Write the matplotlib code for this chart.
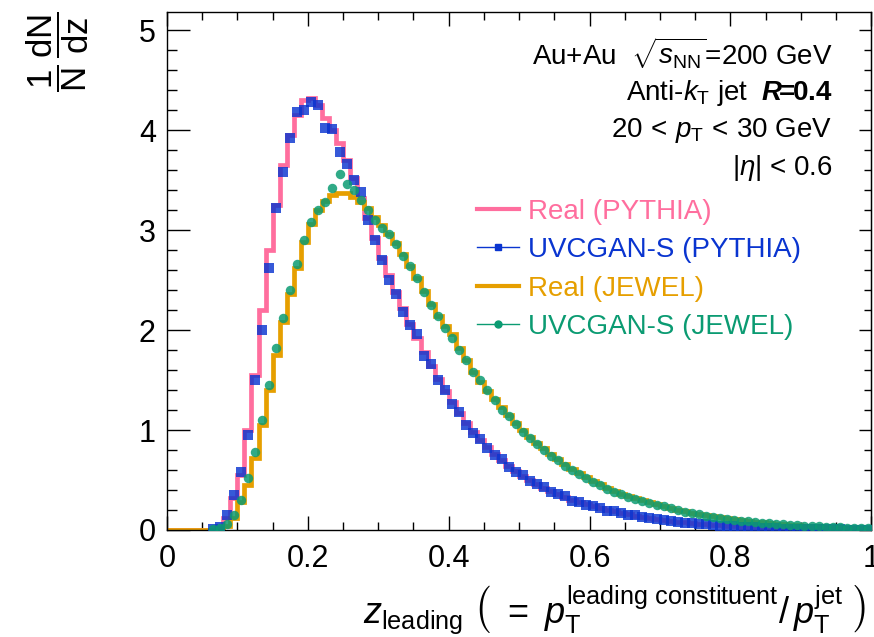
import numpy as np
import matplotlib
matplotlib.use("Agg")
import matplotlib.pyplot as plt
from matplotlib.lines import Line2D
from matplotlib.ticker import MultipleLocator

plt.rcParams['font.family'] = ['Liberation Sans', 'DejaVu Sans']
plt.rcParams['mathtext.fontset'] = 'custom'
plt.rcParams['mathtext.rm'] = 'Liberation Sans'
plt.rcParams['mathtext.it'] = 'Liberation Sans:italic'
plt.rcParams['mathtext.bf'] = 'Liberation Sans:bold'
plt.rcParams['mathtext.bfit'] = 'Liberation Sans:bold:italic'

# 100 bins of z_leading, width 0.01
bin_edges = np.linspace(0, 1, 101)

real_pythia = [
    0, 0, 0, 0, 0, 0, 0, 0.02, 0.12, 0.32,
    0.55, 1.0, 1.55, 2.2, 2.8, 3.25, 3.65, 3.95, 4.15, 4.30,
    4.32, 4.25, 4.12, 4.0, 3.87, 3.70, 3.52, 3.32, 3.12, 2.92,
    2.72, 2.55, 2.38, 2.22, 2.06, 1.92, 1.78, 1.64, 1.51, 1.39,
    1.28, 1.17, 1.07, 0.98, 0.90, 0.83, 0.76, 0.70, 0.64, 0.59,
    0.54, 0.50, 0.46, 0.42, 0.39, 0.36, 0.33, 0.30, 0.28, 0.26,
    0.24, 0.22, 0.20, 0.185, 0.17, 0.155, 0.14, 0.13, 0.12, 0.11,
    0.10, 0.09, 0.082, 0.075, 0.068, 0.062, 0.056, 0.05, 0.045, 0.04,
    0.036, 0.032, 0.028, 0.025, 0.022, 0.019, 0.017, 0.015, 0.013, 0.011,
    0.01, 0.009, 0.008, 0.007, 0.006, 0.005, 0.004, 0.004, 0.003, 0.003,
]

uvcgan_pythia = [
    0, 0, 0, 0, 0, 0, 0.005, 0.03, 0.15, 0.35,
    0.58, 0.95, 1.5, 2.0, 2.62, 3.22, 3.58, 3.92, 4.18, 4.20,
    4.28, 4.25, 4.02, 4.01, 3.78, 3.66, 3.50, 3.38, 3.10, 2.90,
    2.70, 2.50, 2.36, 2.18, 2.05, 1.96, 1.74, 1.66, 1.50, 1.40,
    1.26, 1.18, 1.05, 0.97, 0.91, 0.82, 0.75, 0.71, 0.63, 0.58,
    0.55, 0.49, 0.46, 0.43, 0.38, 0.36, 0.34, 0.29, 0.28, 0.25,
    0.24, 0.22, 0.19, 0.19, 0.165, 0.15, 0.145, 0.125, 0.12, 0.105,
    0.10, 0.088, 0.082, 0.072, 0.068, 0.06, 0.055, 0.05, 0.044, 0.04,
    0.035, 0.032, 0.027, 0.025, 0.021, 0.019, 0.017, 0.014, 0.013, 0.011,
    0.010, 0.009, 0.008, 0.007, 0.006, 0.005, 0.004, 0.004, 0.003, 0.003,
]

real_jewel = [
    0, 0, 0, 0, 0, 0, 0, 0, 0.04, 0.12,
    0.28, 0.45, 0.72, 1.05, 1.40, 1.75, 2.08, 2.36, 2.62, 2.88,
    3.06, 3.20, 3.29, 3.35, 3.37, 3.37, 3.33, 3.28, 3.22, 3.13,
    3.05, 2.96, 2.87, 2.76, 2.64, 2.52, 2.39, 2.26, 2.14, 2.04,
    1.96, 1.82, 1.70, 1.58, 1.48, 1.39, 1.31, 1.23, 1.15, 1.07,
    1.00, 0.93, 0.87, 0.82, 0.76, 0.71, 0.66, 0.61, 0.57, 0.53,
    0.49, 0.46, 0.42, 0.39, 0.36, 0.34, 0.32, 0.30, 0.28, 0.26,
    0.24, 0.22, 0.20, 0.185, 0.17, 0.16, 0.145, 0.135, 0.125, 0.115,
    0.105, 0.097, 0.09, 0.082, 0.075, 0.07, 0.064, 0.058, 0.053, 0.048,
    0.044, 0.04, 0.036, 0.033, 0.03, 0.027, 0.024, 0.022, 0.02, 0.018,
]

uvcgan_jewel = [
    0, 0, 0, 0, 0, 0, 0.005, 0.02, 0.06, 0.15,
    0.30, 0.52, 0.78, 1.10, 1.45, 1.82, 2.12, 2.40, 2.66, 2.90,
    3.08, 3.20, 3.28, 3.42, 3.56, 3.46, 3.40, 3.30, 3.20, 3.10,
    3.02, 2.96, 2.86, 2.74, 2.64, 2.52, 2.38, 2.25, 2.14, 2.02,
    1.92, 1.80, 1.70, 1.58, 1.50, 1.40, 1.30, 1.20, 1.14, 1.06,
    0.98, 0.92, 0.86, 0.80, 0.74, 0.70, 0.64, 0.60, 0.56, 0.52,
    0.48, 0.45, 0.41, 0.38, 0.355, 0.33, 0.31, 0.29, 0.27, 0.25,
    0.235, 0.215, 0.195, 0.18, 0.165, 0.155, 0.14, 0.13, 0.12, 0.11,
    0.10, 0.094, 0.086, 0.08, 0.073, 0.067, 0.062, 0.056, 0.051, 0.047,
    0.043, 0.039, 0.035, 0.032, 0.029, 0.026, 0.024, 0.022, 0.02, 0.018,
]

labels = ["Real (PYTHIA)", "UVCGAN-S (PYTHIA)", "Real (JEWEL)", "UVCGAN-S (JEWEL)"]
pink = "#ff6e9e"
blue = "#0a35d0"
orange = "#e69f00"
green = "#0b9b72"

fig = plt.figure(figsize=(8.74, 6.37), dpi=100)
ax = fig.add_axes([0.191, 0.168, 0.806, 0.813])

centers = 0.5 * (bin_edges[:-1] + bin_edges[1:])

ax.stairs(real_pythia, bin_edges, color=pink, lw=3.4, baseline=None, zorder=2)
ax.stairs(real_jewel, bin_edges, color=orange, lw=3.4, baseline=None, zorder=2)

up = np.array(uvcgan_pythia)
m = up > 0
ax.plot(centers[m], up[m], ls='none', marker='s', ms=6.8, color=blue, alpha=0.82, mew=0, zorder=3)
uj = np.array(uvcgan_jewel)
m = uj > 0
ax.plot(centers[m], uj[m], ls='none', marker='o', ms=6.8, color=green, alpha=0.85, mew=0, zorder=4)

ax.set_xlim(0, 1)
ax.set_ylim(0, 5.18)
ax.xaxis.set_major_locator(MultipleLocator(0.2))
ax.xaxis.set_minor_locator(MultipleLocator(0.05))
ax.yaxis.set_major_locator(MultipleLocator(1))
ax.yaxis.set_minor_locator(MultipleLocator(0.2))
ax.set_xticks([0, 0.2, 0.4, 0.6, 0.8, 1.0], ["0", "0.2", "0.4", "0.6", "0.8", "1"])

ax.tick_params(axis='both', which='both', direction='in', labelsize=22, width=1)
ax.tick_params(axis='x', which='both', top=True, pad=10)
ax.tick_params(axis='x', which='major', length=10)
ax.tick_params(axis='x', which='minor', length=5.5)
ax.tick_params(axis='y', which='major', length=16.5, pad=8)
ax.tick_params(axis='y', which='minor', length=7)
for s in ax.spines.values():
    s.set_linewidth(1)

sec = ax.secondary_yaxis('right')
sec.yaxis.set_major_locator(MultipleLocator(1))
sec.yaxis.set_minor_locator(MultipleLocator(0.2))
sec.tick_params(which='both', direction='in', labelright=False, width=1)
sec.tick_params(which='major', length=8.5)
sec.tick_params(which='minor', length=5)

handles = [
    Line2D([], [], color=pink, lw=3),
    Line2D([], [], color=blue, lw=1, marker='s', ms=5),
    Line2D([], [], color=orange, lw=3),
    Line2D([], [], color=green, lw=1, marker='o', ms=5),
]
ax.legend(handles, labels, loc='upper left', bbox_to_anchor=(0.44, 0.64),
          frameon=False, fontsize=20, labelcolor='linecolor',
          handlelength=1.5, handletextpad=0.35, labelspacing=0.45,
          borderpad=0, borderaxespad=0)

tx = 0.945
ax.text(tx, 0.921, r"Au+Au  $\sqrt{s_{\mathrm{NN}}}$=200 GeV", transform=ax.transAxes,
        ha='right', va='center', fontsize=20)
ax.text(tx, 0.844, r"Anti-$k_{\mathrm{T}}$ jet  $\mathbfit{R}\!\!\mathbf{=}\!\!\mathbf{0.4}$",
        transform=ax.transAxes, ha='right', va='center', fontsize=20)
ax.text(tx, 0.772, r"20$\,<\,p_{\mathrm{T}}\,<\,$30 GeV", transform=ax.transAxes,
        ha='right', va='center', fontsize=20)
ax.text(tx, 0.699, r"$|\eta|$ < 0.6", transform=ax.transAxes,
        ha='right', va='center', fontsize=20)

fig.text(0.991, 0.022,
         r"$z_{\mathrm{leading}}\ \left(\ =\ p_{\mathrm{T}}^{\mathrm{leading\ constituent}}/\,p_{\mathrm{T}}^{\mathrm{jet}}\ \right)$",
         ha='right', va='baseline', fontsize=26)
fig.text(0.066, 0.982, r"$\dfrac{\mathrm{1}}{\mathrm{N}}\,\dfrac{\mathrm{dN}}{\mathrm{dz}}$",
         rotation=90, ha='center', va='top', fontsize=25)

fig.savefig("out.png", dpi=100)
